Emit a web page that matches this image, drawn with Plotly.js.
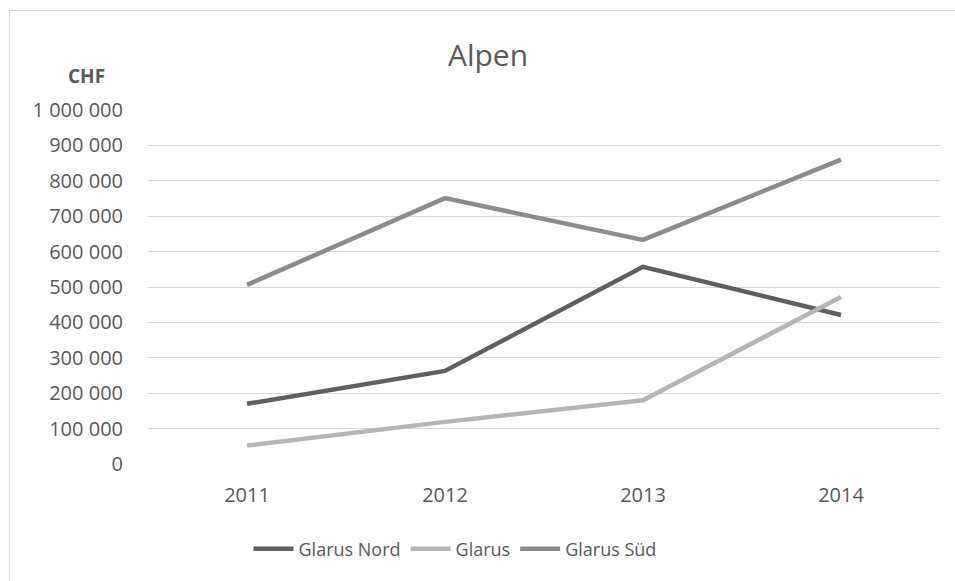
<!DOCTYPE html>
<html>
<head>
<meta charset="utf-8">
<script src="https://cdn.plot.ly/plotly-3.0.1.min.js"></script>
<style>
html,body{margin:0;padding:0;background:#fff;overflow:hidden;}
#frame{position:absolute;left:9px;top:10px;width:960px;height:590px;border:1px solid #d9d9d9;}
#chart{position:absolute;left:0;top:0;width:955px;height:581px;}
</style>
</head>
<body>
<div id="frame"></div>
<div id="chart"></div>
<script>
const years = ['2011', '2012', '2013', '2014'];
const glarusNord = [170000, 263000, 557000, 421000];
const glarus = [52000, 119000, 180000, 472000];
const glarusSued = [506000, 751000, 633000, 860000];
const seriesNames = ['Glarus Nord', 'Glarus', 'Glarus Süd'];
const seriesColors = ['#5f5f5f', '#b5b5b5', '#8c8c8c'];

const font = "'Open Sans', 'Liberation Sans', sans-serif";
const data = [glarusNord, glarus, glarusSued].map((vals, i) => ({
  type: 'scatter', mode: 'lines', x: years, y: vals, name: seriesNames[i],
  line: {color: seriesColors[i], width: 4.5}, hoverinfo: 'skip'
}));

const layout = {
  width: 955, height: 581,
  margin: {l: 148, r: 15, t: 110, b: 117},
  paper_bgcolor: 'rgba(0,0,0,0)', plot_bgcolor: 'rgba(0,0,0,0)',
  separators: ', ',
  font: {family: font, color: '#595959', size: 20},
  title: {text: 'Alpen', x: 488/955, xref: 'container', y: 1 - 55/581, yref: 'container', yanchor: 'middle', xanchor: 'center',
          font: {family: font, size: 30, color: '#595959'}},
  xaxis: {type: 'category', range: [-0.5, 3.5], showgrid: false, zeroline: false, showline: false,
          ticks: '', ticklabelstandoff: 17, tickfont: {size: 20, color: '#595959'}, fixedrange: true},
  yaxis: {range: [0, 1000000], dtick: 100000, tick0: 0, tickformat: ',d', showgrid: true, gridcolor: '#d9d9d9', gridwidth: 1,
          zeroline: false, showline: false, ticks: '', ticklabelstandoff: 24, tickfont: {size: 20, color: '#595959'}, fixedrange: true},
  showlegend: true,
  legend: {orientation: 'h', xref: 'container', x: 455/955, xanchor: 'center', yref: 'container', y: 1 - 549/581, yanchor: 'middle',
           font: {size: 18, color: '#595959'}, itemwidth: 40, traceorder: 'normal'},
  annotations: [{text: '<b>CHF</b>', xref: 'paper', yref: 'paper', x: (86-148)/792, y: (464-76)/354,
                 xanchor: 'center', yanchor: 'middle', showarrow: false, font: {size: 19, color: '#595959'}}]
};

Plotly.newPlot('chart', data, layout, {displayModeBar: false, staticPlot: true});
</script>
</body>
</html>
